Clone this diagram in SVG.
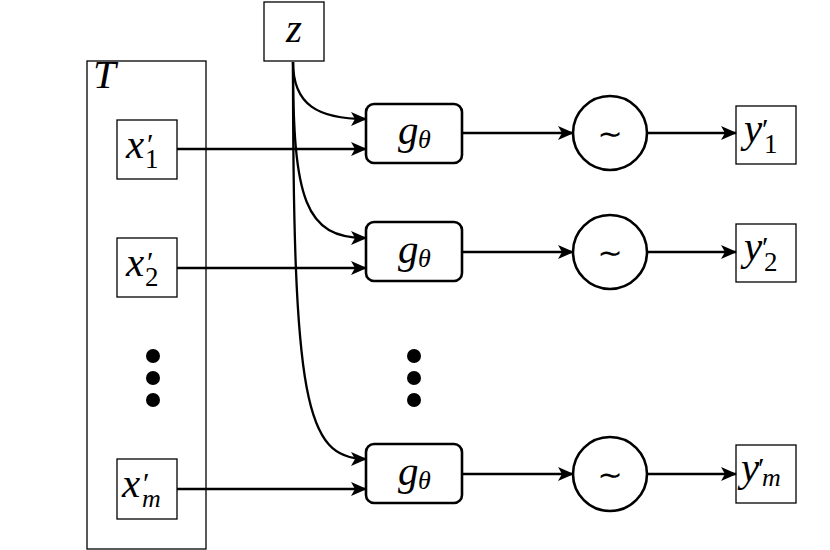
<svg xmlns="http://www.w3.org/2000/svg" width="830" height="550" viewBox="0 0 830 550">
<style>
.thin{fill:#fff;stroke:#000;stroke-width:1.3}
.thick{fill:#fff;stroke:#000;stroke-width:2.6}
.conn{fill:none;stroke:#000;stroke-width:2.3}
.m{font-family:"Liberation Serif","DejaVu Serif",serif;font-style:italic;font-size:41px;fill:#000}
.p{font-family:"Liberation Serif","DejaVu Serif",serif;font-size:30px;fill:#000}
.s{font-family:"Liberation Serif","DejaVu Serif",serif;font-size:27px;fill:#000}
.si{font-family:"Liberation Serif","DejaVu Serif",serif;font-style:italic;font-size:26px;fill:#000}
.up{font-family:"DejaVu Sans","Liberation Sans",sans-serif;font-size:30px;fill:#000}
</style>
<defs>
<marker id="ah" markerWidth="16" markerHeight="14" refX="15" refY="7" orient="auto" markerUnits="userSpaceOnUse">
<path d="M0,0 L16,7 L0,14 L4,7 Z" fill="#000"/>
</marker>
</defs>
<g id="T">
<rect class="thin" x="87" y="61" width="119" height="488"/>
<text class="m" x="93" y="88" font-size="31">T</text>
</g>
<g id="z">
<rect class="thin" x="264" y="2" width="60" height="59"/>
<text class="m" x="294" y="42" text-anchor="middle">z</text>
</g>
<g id="x1">
<rect class="thin" x="117" y="120" width="60" height="59"/>
<text class="m" x="126" y="158">x</text>
<text class="p" x="147" y="154">′</text>
<text class="s" x="145" y="168">1</text>
</g>
<g id="x2">
<rect class="thin" x="117" y="238" width="60" height="59"/>
<text class="m" x="126" y="276">x</text>
<text class="p" x="147" y="272">′</text>
<text class="s" x="145" y="286">2</text>
</g>
<g id="xm">
<rect class="thin" x="117" y="459" width="60" height="60"/>
<text class="m" x="122" y="497">x</text>
<text class="p" x="143" y="493">′</text>
<text class="si" x="142" y="507">m</text>
</g>
<g id="dotsL">
<circle cx="153" cy="356" r="7"/><circle cx="153" cy="378" r="7"/><circle cx="153" cy="400" r="7"/>
</g>
<g id="dotsM">
<circle cx="414" cy="356" r="7"/><circle cx="414" cy="378" r="7"/><circle cx="414" cy="400" r="7"/>
</g>
<g id="g1">
<rect class="thick" x="366" y="104" width="96" height="59" rx="8"/>
<text class="m" x="398" y="144">g</text>
<text class="si" x="418" y="148">θ</text>
</g>
<g id="g2">
<rect class="thick" x="366" y="222" width="96" height="59" rx="8"/>
<text class="m" x="398" y="263">g</text>
<text class="si" x="418" y="267">θ</text>
</g>
<g id="gm">
<rect class="thick" x="366" y="444" width="96" height="59" rx="8"/>
<text class="m" x="398" y="485">g</text>
<text class="si" x="418" y="489">θ</text>
</g>
<g id="s1">
<circle class="thick" cx="610" cy="133" r="37"/>
<text class="up" x="610" y="144" text-anchor="middle">∼</text>
</g>
<g id="s2">
<circle class="thick" cx="610" cy="252" r="37"/>
<text class="up" x="610" y="263" text-anchor="middle">∼</text>
</g>
<g id="sm">
<circle class="thick" cx="610" cy="474" r="37"/>
<text class="up" x="610" y="485" text-anchor="middle">∼</text>
</g>
<g id="y1">
<rect class="thin" x="736" y="106" width="60" height="58"/>
<text class="m" x="744" y="142">y</text>
<text class="p" x="762" y="139">′</text>
<text class="s" x="764" y="153">1</text>
</g>
<g id="y2">
<rect class="thin" x="736" y="224" width="60" height="58"/>
<text class="m" x="744" y="260">y</text>
<text class="p" x="762" y="257">′</text>
<text class="s" x="764" y="271">2</text>
</g>
<g id="ym">
<rect class="thin" x="736" y="445" width="60" height="58"/>
<text class="m" x="741" y="481">y</text>
<text class="p" x="758" y="478">′</text>
<text class="si" x="762" y="486">m</text>
</g>
<g id="connectors">
<path class="conn" d="M177,149 H366" marker-end="url(#ah)"/>
<path class="conn" d="M177,268 H366" marker-end="url(#ah)"/>
<path class="conn" d="M177,489 H366" marker-end="url(#ah)"/>
<path class="conn" d="M293,62 C293,105 318,119 366,119" marker-end="url(#ah)"/>
<path class="conn" d="M293,62 C293,200 305,238 366,238" marker-end="url(#ah)"/>
<path class="conn" d="M293,62 C293,400 305,459 366,459" marker-end="url(#ah)"/>
<path class="conn" d="M462,133 H573" marker-end="url(#ah)"/>
<path class="conn" d="M462,252 H573" marker-end="url(#ah)"/>
<path class="conn" d="M462,474 H573" marker-end="url(#ah)"/>
<path class="conn" d="M647,133 H736" marker-end="url(#ah)"/>
<path class="conn" d="M647,252 H736" marker-end="url(#ah)"/>
<path class="conn" d="M647,474 H736" marker-end="url(#ah)"/>
</g>
</svg>
